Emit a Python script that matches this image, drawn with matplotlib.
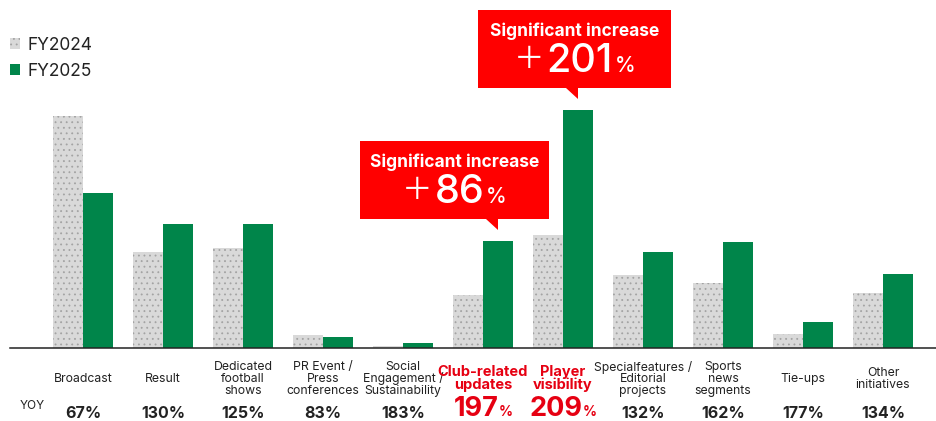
import numpy as np
import matplotlib.pyplot as plt
from matplotlib.patches import Rectangle, Polygon

plt.rcParams['font.family'] = ['Inter', 'Noto Sans CJK JP', 'DejaVu Sans']
plt.rcParams['hatch.linewidth'] = 0.6

categories = ["Broadcast", "Result", "Dedicated\nfootball\nshows",
              "PR Event /\nPress\nconferences", "Social\nEngagement /\nSustainability",
              "Club-related\nupdates", "Player\nvisibility",
              "Specialfeatures /\nEditorial\nprojects", "Sports\nnews\nsegments",
              "Tie-ups", "Other\ninitiatives"]
fy2024 = [232, 96, 100, 13, 2.5, 53, 113, 73, 65, 14, 55]
fy2025 = [155, 124, 124, 11.5, 5.5, 107, 238, 96, 106, 26, 74]
yoy = ["67", "130", "125", "83", "183", "197", "209", "132", "162", "177", "134"]
highlight = [5, 6]
callout_pct = {5: "86", 6: "201"}

RED = '#e60012'
BOX_RED = '#ff0000'
GREEN = '#00854a'
GRAY = '#d9d9d9'
INK = '#222222'

W, H = 936, 421
base = 348  # baseline, pixels from the top

fig = plt.figure(figsize=(W / 100, H / 100), dpi=100)
ax = fig.add_axes([10 / W, (H - base) / H, (W - 10) / W, base / H])
ax.set_xlim(-0.9125, 10.6625)
ax.set_ylim(0, base)

x = np.arange(len(categories))
bw = 0.375
b1 = ax.bar(x - bw / 2, fy2024, bw, color=GRAY, edgecolor='#a3a3a3', linewidth=0,
            hatch='...', label='FY2024')
b2 = ax.bar(x + bw / 2, fy2025, bw, color=GREEN, linewidth=0, label='FY2025')

for s in ['top', 'left', 'right']:
    ax.spines[s].set_visible(False)
ax.spines['bottom'].set_color(INK)
ax.spines['bottom'].set_linewidth(1.1)
ax.set_xticks([])
ax.set_yticks([])

# pixels per data unit
ppx = ax.transData.transform((1, 0))[0] - ax.transData.transform((0, 0))[0]
ppy = ax.transData.transform((0, 1))[1] - ax.transData.transform((0, 0))[1]

leg = ax.legend(handles=[b1, b2], loc='upper left', bbox_to_anchor=(10 / W, 1 - 37 / H),
                bbox_transform=fig.transFigure, frameon=False, fontsize=12.5,
                handlelength=0.58, handleheight=0.58, handletextpad=0.4,
                labelspacing=0.5, borderpad=0, borderaxespad=0)
for t in leg.get_texts():
    t.set_color(INK)

# category names
for i, cat in enumerate(categories):
    if i in highlight:
        ax.text(i, -30.5, cat, ha='center', va='center', fontsize=10.5,
                fontweight='bold', color=RED, linespacing=0.95)
    else:
        ax.text(i, -31, cat, ha='center', va='center', fontsize=8.8,
                color=INK, linespacing=0.95)

renderer = fig.canvas.get_renderer()


def centered_run(xc, y, pieces):
    # lay out text pieces side by side on one baseline, centred on xc
    # pieces: (text, text kwargs, gap after in px, vertical shift in px)
    arts = []
    total = 0
    for txt, kw, gap, dy in pieces:
        t = ax.text(xc, y + dy / ppy, txt, ha='left', va='baseline', **kw)
        w = t.get_window_extent(renderer).width
        arts.append((t, w, gap))
        total += w + gap
    total -= pieces[-1][2]
    cur = xc - total / 2 / ppx
    for t, w, gap in arts:
        t.set_x(cur)
        cur += (w + gap) / ppx


ax.text(-0.6375, -58, "YOY", ha='center', va='center', fontsize=8.5, color=INK)
for i, v in enumerate(yoy):
    if i in highlight:
        centered_run(i, -67.5, [
            (v, dict(fontsize=19.5, fontweight='bold', color=RED), 0, 0),
            ('%', dict(fontsize=10, fontweight='bold', color=RED), 0, 0),
        ])
    else:
        ax.text(i, -70, v + '%', ha='center', va='baseline', fontsize=11.5,
                fontweight='bold', color=INK)

# red callouts above the highlighted bars
box_edges = {5: (-138, 51), 6: (-100, 93)}
for i, pct in callout_pct.items():
    tip_x = i + bw / 2
    tip_y = fy2025[i] + 11
    left, right = box_edges[i]
    y0 = tip_y + 11
    y1 = tip_y + 89
    ax.add_patch(Rectangle((tip_x + left / ppx, y0), (right - left) / ppx, y1 - y0,
                           facecolor=BOX_RED, edgecolor='none', clip_on=False))
    ax.add_patch(Polygon([(tip_x - 12 / ppx, y0), (tip_x, y0), (tip_x, tip_y)],
                         closed=True, facecolor=BOX_RED, edgecolor='none', clip_on=False))
    xc = tip_x + (left + right) / 2 / ppx
    ax.text(xc, y1 - 21, "Significant increase", ha='center', va='center',
            fontsize=12.5, fontweight='bold', color='white')
    centered_run(xc, y1 - 62, [
        ('＋', dict(fontsize=22, color='white', family='Noto Sans CJK JP'), 2, 4),
        (pct, dict(fontsize=28.5, fontweight='medium', color='white'), 2, 0),
        ('%', dict(fontsize=15, fontweight='medium', color='white'), 0, 0),
    ])

fig.savefig('out.png', dpi=100)
